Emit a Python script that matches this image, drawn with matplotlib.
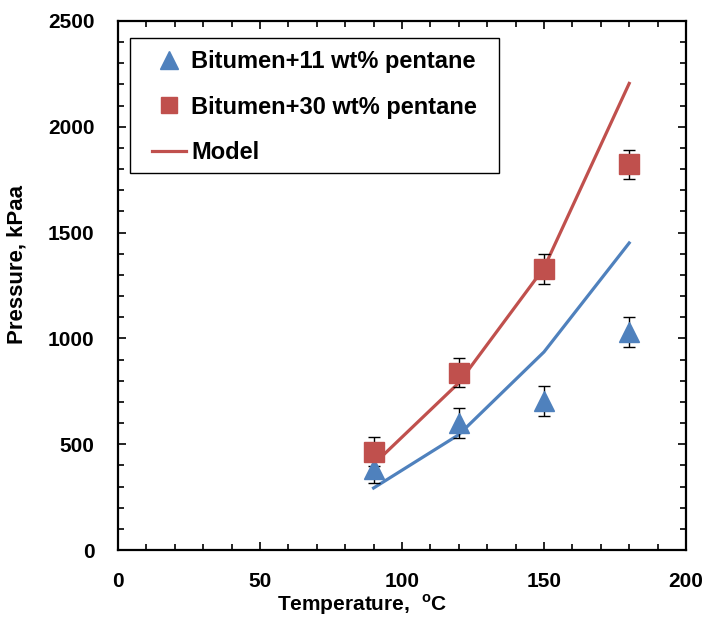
import matplotlib
matplotlib.use("Agg")
import matplotlib.pyplot as plt
from matplotlib.ticker import MultipleLocator
from matplotlib.patches import Rectangle

plt.rcParams['font.family'] = ['Liberation Sans', 'DejaVu Sans']
plt.rcParams['font.weight'] = 'bold'
plt.rcParams['mathtext.fontset'] = 'custom'
plt.rcParams['mathtext.rm'] = 'Liberation Sans:bold'
plt.rcParams['mathtext.bf'] = 'Liberation Sans:bold'

# data
temp = [90, 120, 150, 180]
p_11 = [385, 600, 705, 1030]
p_30 = [465, 838, 1327, 1822]
err_11 = [70, 70, 70, 70]
err_30 = [70, 70, 70, 70]
model_11 = [293, 545, 936, 1451]
model_30 = [405, 790, 1333, 2205]

blue = '#4F81BD'
red = '#C0504D'

fig = plt.figure(figsize=(7.07, 6.17), dpi=100)
ax = fig.add_axes([118/707, 1 - 550/617, 568/707, 529/617])

# model curves
ax.plot(temp, model_11, color=blue, linewidth=2.3, zorder=2)
line30, = ax.plot(temp, model_30, color=red, linewidth=2.3, zorder=2, label='Model')

# measured points with error bars
ax.errorbar(temp, p_11, yerr=err_11, fmt='none', ecolor='black',
            elinewidth=1, capsize=4, capthick=1, zorder=3)
ax.errorbar(temp, p_30, yerr=err_30, fmt='none', ecolor='black',
            elinewidth=1, capsize=4, capthick=1, zorder=3)
tri, = ax.plot(temp, p_11, linestyle='none', marker='^', markersize=15,
               color=blue, zorder=4, label='Bitumen+11 wt% pentane')
sq, = ax.plot(temp, p_30, linestyle='none', marker='s', markersize=14,
              color=red, zorder=4, label='Bitumen+30 wt% pentane')

ax.set_xlim(0, 200)
ax.set_ylim(0, 2500)
ax.xaxis.set_major_locator(MultipleLocator(50))
ax.xaxis.set_minor_locator(MultipleLocator(10))
ax.yaxis.set_major_locator(MultipleLocator(500))
ax.yaxis.set_minor_locator(MultipleLocator(100))
ax.tick_params(which='both', direction='in', top=True, right=True,
               labelsize=15, width=1.2)
ax.tick_params(which='major', length=6)
ax.tick_params(which='minor', length=4)
ax.tick_params(axis='x', pad=16)
ax.tick_params(axis='y', pad=17)
for s in ax.spines.values():
    s.set_linewidth(1.6)

ax.set_xlabel(r'Temperature,  $^{\mathrm{o}}$C', fontsize=15, fontweight='bold')
ax.set_ylabel('Pressure, kPaa', fontsize=16, fontweight='bold')
ax.xaxis.set_label_coords(0.43, -0.08)
ax.yaxis.set_label_coords(-0.16, 0.54)

# legend box drawn separately so its padding matches the original
box = Rectangle((0.021, 0.713), 0.65, 0.255, transform=ax.transAxes,
                facecolor='white', edgecolor='black', linewidth=1, zorder=5)
ax.add_patch(box)
leg = ax.legend(handles=[tri, sq, line30], loc='upper left',
                bbox_to_anchor=(0.06, 0.945), fontsize=17, frameon=False,
                labelspacing=0.95, handlelength=1.45, handletextpad=0.2,
                borderpad=0, borderaxespad=0, markerscale=0.85)
leg.set_zorder(6)

fig.savefig('out.png', dpi=100)
